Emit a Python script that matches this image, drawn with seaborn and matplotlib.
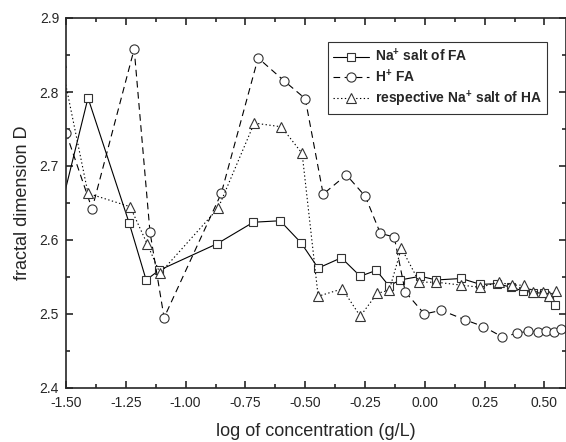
import numpy as np
import pandas as pd
import matplotlib
matplotlib.use("Agg")
import matplotlib.pyplot as plt
from matplotlib.ticker import MultipleLocator
import seaborn as sns

# values
na_fa_x = [-1.52, -1.408, -1.236, -1.165, -1.111, -0.868, -0.717, -0.605, -0.517, -0.446,
           -0.349, -0.270, -0.203, -0.150, -0.103, -0.019, 0.048, 0.153, 0.232, 0.303,
           0.362, 0.412, 0.454, 0.496, 0.517, 0.546]
na_fa_y = [2.645, 2.792, 2.623, 2.546, 2.559, 2.595, 2.624, 2.626, 2.596, 2.562,
           2.576, 2.551, 2.559, 2.538, 2.546, 2.551, 2.546, 2.548, 2.540, 2.541,
           2.536, 2.531, 2.529, 2.528, 2.523, 2.512]

h_fa_x = [-1.50, -1.391, -1.215, -1.149, -1.090, -0.851, -0.697, -0.588, -0.500, -0.425,
          -0.328, -0.249, -0.186, -0.128, -0.082, -0.002, 0.069, 0.169, 0.245, 0.324,
          0.387, 0.433, 0.471, 0.508, 0.538, 0.571]
h_fa_y = [2.745, 2.642, 2.858, 2.611, 2.495, 2.663, 2.846, 2.815, 2.791, 2.662,
          2.688, 2.659, 2.609, 2.604, 2.530, 2.500, 2.505, 2.492, 2.483, 2.469,
          2.474, 2.477, 2.476, 2.477, 2.476, 2.480]

na_ha_x = [-1.52, -1.408, -1.232, -1.161, -1.107, -0.864, -0.713, -0.600, -0.513, -0.446,
           -0.345, -0.270, -0.199, -0.149, -0.098, -0.023, 0.048, 0.153, 0.232, 0.308,
           0.366, 0.416, 0.454, 0.492, 0.517, 0.550]
na_ha_y = [2.84, 2.663, 2.645, 2.595, 2.555, 2.643, 2.758, 2.753, 2.717, 2.524,
           2.534, 2.497, 2.528, 2.532, 2.589, 2.543, 2.543, 2.539, 2.536, 2.543,
           2.539, 2.539, 2.530, 2.530, 2.524, 2.531]

labels = [r"Na$^{\mathbf{+}}$ salt of FA", r"H$^{\mathbf{+}}$ FA",
          r"respective Na$^{\mathbf{+}}$ salt of HA"]

sns.set_style("ticks")
plt.rcParams["font.family"] = ["Liberation Sans", "DejaVu Sans"]
plt.rcParams["mathtext.fontset"] = "custom"
plt.rcParams["mathtext.rm"] = "Liberation Sans"
plt.rcParams["mathtext.bf"] = "Liberation Sans:bold"

fig = plt.figure(figsize=(5.66, 4.42), dpi=100)
ax = fig.add_axes([66 / 566, 1 - 388 / 442, 500 / 566, 370 / 442])

series = [
    (na_fa_x, na_fa_y, "s", "-", 5.8),
    (h_fa_x, h_fa_y, "o", (0, (6, 4)), 6.6),
    (na_ha_x, na_ha_y, "^", (0, (1.2, 2.2)), 7.2),
]
for (xs, ys, mk, ls, ms), lab in zip(series, labels):
    df = pd.DataFrame({"x": xs, "y": ys})
    sns.lineplot(data=df, x="x", y="y", ax=ax, sort=False, color="black",
                 linewidth=0.8, linestyle=ls, marker=mk, markersize=ms,
                 markerfacecolor="white", markeredgecolor="#333333",
                 markeredgewidth=0.8, label=lab)

ax.set_xlim(-1.5, 0.59)
ax.set_ylim(2.4, 2.9)
ax.xaxis.set_major_locator(MultipleLocator(0.25))
ax.xaxis.set_minor_locator(MultipleLocator(0.125))
ax.yaxis.set_major_locator(MultipleLocator(0.1))
ax.yaxis.set_minor_locator(MultipleLocator(0.05))
ax.xaxis.set_major_formatter(matplotlib.ticker.FormatStrFormatter("%.2f"))
ax.yaxis.set_major_formatter(matplotlib.ticker.FormatStrFormatter("%.1f"))
ax.tick_params(which="both", direction="in", top=True, right=True, width=1.2,
               labelsize=10)
ax.tick_params(axis="x", pad=6)
ax.tick_params(axis="y", pad=5)
ax.tick_params(which="major", length=5)
ax.tick_params(which="minor", length=3)
for s in ax.spines.values():
    s.set_linewidth(1.2)

ax.set_xlabel("log of concentration (g/L)", fontsize=13, labelpad=9)
ax.set_ylabel("fractal dimension D", fontsize=13, labelpad=6)

leg = ax.legend(loc="upper right", bbox_to_anchor=(0.975, 0.953), frameon=True,
                fancybox=False, edgecolor="black", handlelength=2.6,
                prop={"weight": "bold", "size": 10}, borderpad=0.35,
                labelspacing=0.25, handletextpad=0.4)
leg.get_frame().set_linewidth(0.8)

fig.savefig("out.png", dpi=100)
